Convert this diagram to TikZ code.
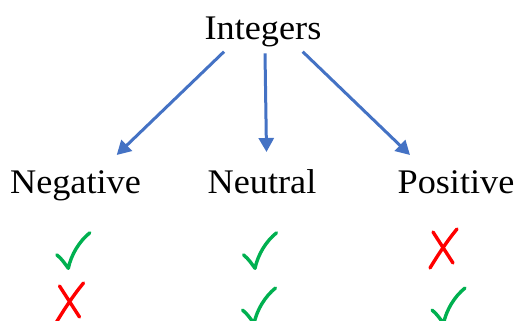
\documentclass[tikz,border=0pt]{standalone}
\usepackage{fontspec}
\setmainfont[FakeStretch=1.05]{Liberation Serif}
\usetikzlibrary{arrows.meta}
\definecolor{arrowblue}{HTML}{4472C4}
\definecolor{okgreen}{HTML}{00B050}
\definecolor{nored}{HTML}{FF0000}
\tikzset{
  pics/okmark/.style={code={
    \draw[okgreen, line width=3.4pt, line cap=round, line join=round]
      (-11.5,-13.5) .. controls (-6,-9) and (-3,-4) .. (0,0)
      .. controls (3,-14) and (11,-27) .. (21.5,-35.5);}},
  pics/nomark/.style={code={
    \draw[nored, line width=3.4pt, line cap=round]
      (13.5,-19.5) .. controls (4,-8) and (-4,4) .. (-13.5,19.5)
      (-10.5,-16.5) -- (9.5,14.5);}}
}
\begin{document}
\begin{tikzpicture}[x=1pt,y=-1pt,
  word/.style={font=\fontsize{34.5}{40}\selectfont, inner sep=0pt, anchor=base},
  arr/.style={draw=arrowblue, line width=3pt, -{Triangle[width=15pt,length=14pt]}}]
  \useasboundingbox (0,0) rectangle (520,321);

  % labels
  \node[word] (int) at (263,40) {Integers};
  \node[word] (neg) at (75.5,193) {Negative};
  \node[word] (neu) at (262,193) {Neutral};
  \node[word] (pos) at (456,193) {Positive};

  % arrows from the root to each category
  \draw[arr] ([shift={(-39,11.7)}]int.base) -- ([shift={(41.2,-38)}]neg.base);
  \draw[arr] ([shift={(2,13.3)}]int.base) -- ([shift={(4.5,-41)}]neu.base);
  \draw[arr] ([shift={(39.7,11.7)}]int.base) -- ([shift={(-46,-38)}]pos.base);

  % first row of marks
  \pic at (68.3,268.3) {okmark};
  \pic at (255,268.3) {okmark};
  \pic at (443.5,248.5) {nomark};

  % second row of marks
  \pic at (70,302.5) {nomark};
  \pic at (254,323.5) {okmark};
  \pic at (443.5,323.5) {okmark};
\end{tikzpicture}
\end{document}
